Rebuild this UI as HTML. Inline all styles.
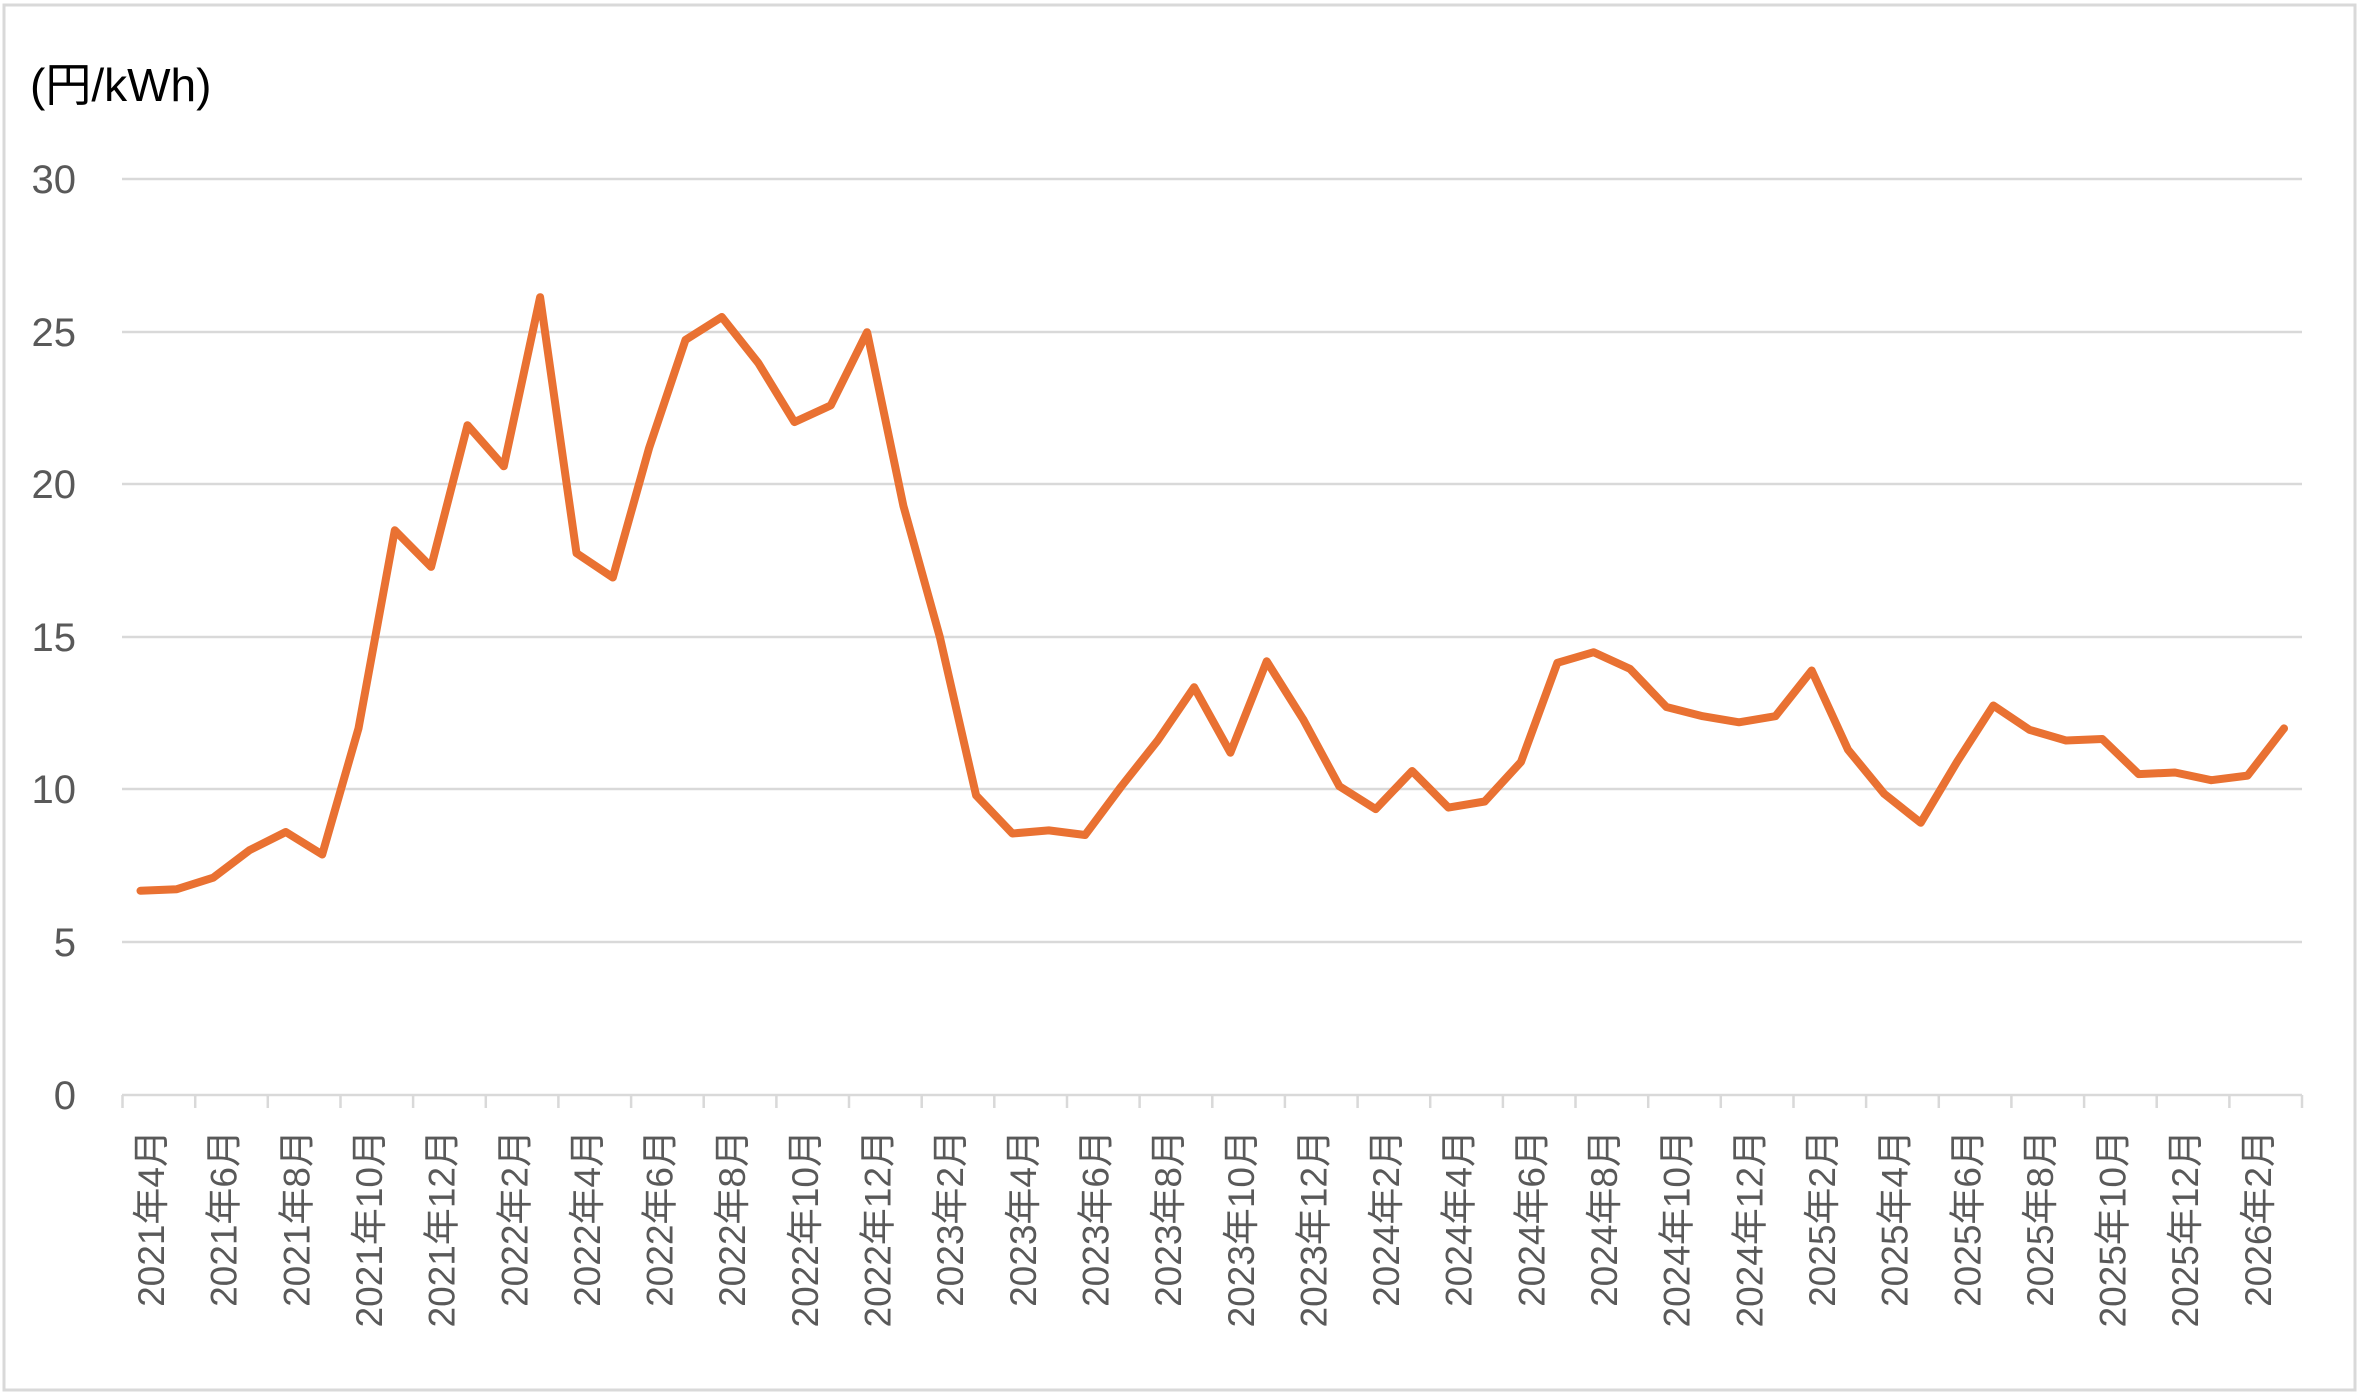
<!DOCTYPE html>
<html><head><meta charset="utf-8"><style>
html,body{margin:0;padding:0;background:#fff}
svg{display:block}
text{font-family:"Liberation Sans","Noto Sans CJK JP",sans-serif}
</style></head><body>
<svg width="2365" height="1397" viewBox="0 0 2365 1397" xmlns="http://www.w3.org/2000/svg">
<rect x="4" y="5" width="2351" height="1385" fill="#fff" stroke="#d9d9d9" stroke-width="3"/>
<text x="30" y="101" font-size="46" fill="#000">(円/kWh)</text>
<g stroke="#d9d9d9" stroke-width="2.5">
<line x1="122" y1="179" x2="2302" y2="179"/>
<line x1="122" y1="332" x2="2302" y2="332"/>
<line x1="122" y1="484" x2="2302" y2="484"/>
<line x1="122" y1="637" x2="2302" y2="637"/>
<line x1="122" y1="789" x2="2302" y2="789"/>
<line x1="122" y1="942" x2="2302" y2="942"/>
<line x1="122" y1="1095" x2="2302" y2="1095"/>
</g>
<g fill="#595959" font-size="40" text-anchor="end">
<text x="76" y="193">30</text>
<text x="76" y="346">25</text>
<text x="76" y="498">20</text>
<text x="76" y="651">15</text>
<text x="76" y="803">10</text>
<text x="76" y="956">5</text>
<text x="76" y="1109">0</text>
</g>
<g stroke="#d9d9d9" stroke-width="2.5">
<line x1="122.5" y1="1095" x2="122.5" y2="1108"/><line x1="195.2" y1="1095" x2="195.2" y2="1108"/><line x1="267.8" y1="1095" x2="267.8" y2="1108"/><line x1="340.5" y1="1095" x2="340.5" y2="1108"/><line x1="413.1" y1="1095" x2="413.1" y2="1108"/><line x1="485.8" y1="1095" x2="485.8" y2="1108"/><line x1="558.4" y1="1095" x2="558.4" y2="1108"/><line x1="631.1" y1="1095" x2="631.1" y2="1108"/><line x1="703.7" y1="1095" x2="703.7" y2="1108"/><line x1="776.4" y1="1095" x2="776.4" y2="1108"/><line x1="849" y1="1095" x2="849" y2="1108"/><line x1="921.7" y1="1095" x2="921.7" y2="1108"/><line x1="994.3" y1="1095" x2="994.3" y2="1108"/><line x1="1067" y1="1095" x2="1067" y2="1108"/><line x1="1139.6" y1="1095" x2="1139.6" y2="1108"/><line x1="1212.3" y1="1095" x2="1212.3" y2="1108"/><line x1="1284.9" y1="1095" x2="1284.9" y2="1108"/><line x1="1357.6" y1="1095" x2="1357.6" y2="1108"/><line x1="1430.2" y1="1095" x2="1430.2" y2="1108"/><line x1="1502.9" y1="1095" x2="1502.9" y2="1108"/><line x1="1575.5" y1="1095" x2="1575.5" y2="1108"/><line x1="1648.2" y1="1095" x2="1648.2" y2="1108"/><line x1="1720.8" y1="1095" x2="1720.8" y2="1108"/><line x1="1793.5" y1="1095" x2="1793.5" y2="1108"/><line x1="1866.1" y1="1095" x2="1866.1" y2="1108"/><line x1="1938.8" y1="1095" x2="1938.8" y2="1108"/><line x1="2011.4" y1="1095" x2="2011.4" y2="1108"/><line x1="2084.1" y1="1095" x2="2084.1" y2="1108"/><line x1="2156.7" y1="1095" x2="2156.7" y2="1108"/><line x1="2229.4" y1="1095" x2="2229.4" y2="1108"/><line x1="2302" y1="1095" x2="2302" y2="1108"/>
</g>
<g fill="#595959" font-size="37" text-anchor="end">
<text transform="translate(151,1130) rotate(-90)" dy="13">2021年4月</text>
<text transform="translate(223.7,1130) rotate(-90)" dy="13">2021年6月</text>
<text transform="translate(296.3,1130) rotate(-90)" dy="13">2021年8月</text>
<text transform="translate(369,1130) rotate(-90)" dy="13">2021年10月</text>
<text transform="translate(441.6,1130) rotate(-90)" dy="13">2021年12月</text>
<text transform="translate(514.3,1130) rotate(-90)" dy="13">2022年2月</text>
<text transform="translate(586.9,1130) rotate(-90)" dy="13">2022年4月</text>
<text transform="translate(659.6,1130) rotate(-90)" dy="13">2022年6月</text>
<text transform="translate(732.2,1130) rotate(-90)" dy="13">2022年8月</text>
<text transform="translate(804.9,1130) rotate(-90)" dy="13">2022年10月</text>
<text transform="translate(877.5,1130) rotate(-90)" dy="13">2022年12月</text>
<text transform="translate(950.2,1130) rotate(-90)" dy="13">2023年2月</text>
<text transform="translate(1022.8,1130) rotate(-90)" dy="13">2023年4月</text>
<text transform="translate(1095.5,1130) rotate(-90)" dy="13">2023年6月</text>
<text transform="translate(1168.1,1130) rotate(-90)" dy="13">2023年8月</text>
<text transform="translate(1240.8,1130) rotate(-90)" dy="13">2023年10月</text>
<text transform="translate(1313.4,1130) rotate(-90)" dy="13">2023年12月</text>
<text transform="translate(1386.1,1130) rotate(-90)" dy="13">2024年2月</text>
<text transform="translate(1458.7,1130) rotate(-90)" dy="13">2024年4月</text>
<text transform="translate(1531.4,1130) rotate(-90)" dy="13">2024年6月</text>
<text transform="translate(1604,1130) rotate(-90)" dy="13">2024年8月</text>
<text transform="translate(1676.7,1130) rotate(-90)" dy="13">2024年10月</text>
<text transform="translate(1749.3,1130) rotate(-90)" dy="13">2024年12月</text>
<text transform="translate(1822,1130) rotate(-90)" dy="13">2025年2月</text>
<text transform="translate(1894.6,1130) rotate(-90)" dy="13">2025年4月</text>
<text transform="translate(1967.3,1130) rotate(-90)" dy="13">2025年6月</text>
<text transform="translate(2039.9,1130) rotate(-90)" dy="13">2025年8月</text>
<text transform="translate(2112.6,1130) rotate(-90)" dy="13">2025年10月</text>
<text transform="translate(2185.2,1130) rotate(-90)" dy="13">2025年12月</text>
<text transform="translate(2257.9,1130) rotate(-90)" dy="13">2026年2月</text>
</g>
<polyline fill="none" stroke="#E97132" stroke-width="8" stroke-linejoin="round" stroke-linecap="round" points="140.5,890.8 176.8,889.2 213.2,877.7 249.5,850.2 285.8,832.0 322.2,854.5 358.5,728.4 394.8,530.3 431.1,566.9 467.5,425.2 503.8,466.3 540.1,297.2 576.5,553.2 612.8,577.5 649.1,448.0 685.5,339.9 721.8,317.0 758.1,362.7 794.4,422.1 830.8,405.4 867.1,332.2 903.4,505.9 939.8,636.9 976.1,795.4 1012.4,833.5 1048.8,830.4 1085.1,835.0 1121.4,786.3 1157.7,740.5 1194.1,687.2 1230.4,752.7 1266.7,661.3 1303.1,719.2 1339.4,786.3 1375.7,809.1 1412.1,771.0 1448.4,807.6 1484.7,801.5 1521.0,761.9 1557.4,662.8 1593.7,652.2 1630.0,668.9 1666.4,707.0 1702.7,716.2 1739.0,722.3 1775.4,716.2 1811.7,670.5 1848.0,749.7 1884.3,793.9 1920.7,822.8 1957.0,761.9 1993.3,705.5 2029.7,729.9 2066.0,740.5 2102.3,739.0 2138.7,774.1 2175.0,772.5 2211.3,780.2 2247.6,775.6 2284.0,728.4"/>
</svg>
</body></html>
